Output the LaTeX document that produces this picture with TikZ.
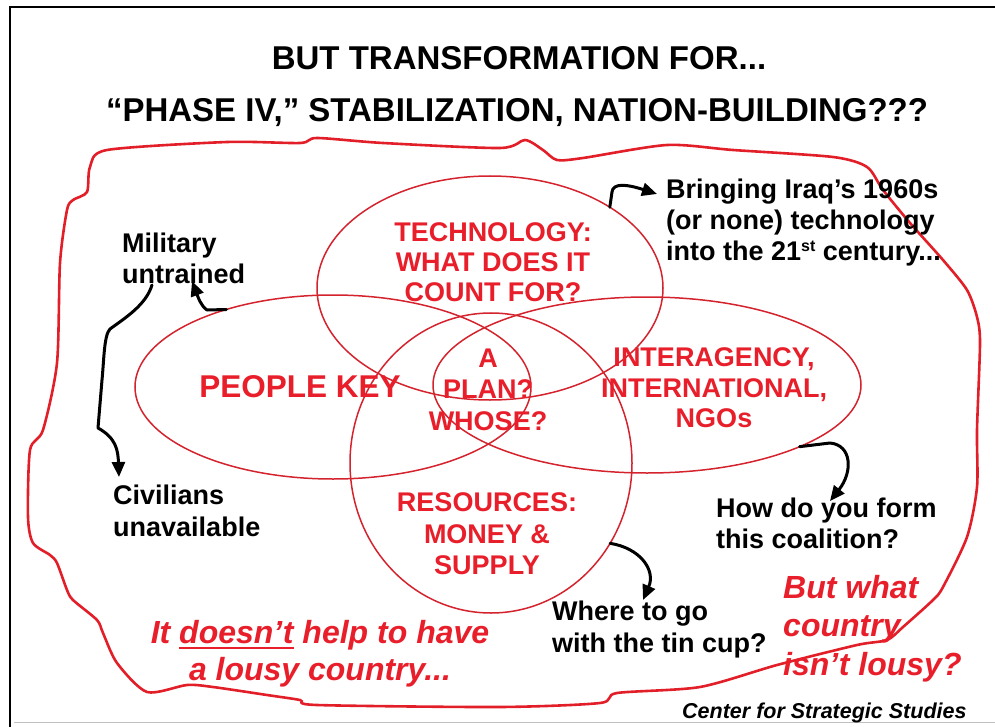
\documentclass[tikz,border=0pt]{standalone}
\usepackage{fontspec}
\setmainfont{Liberation Sans}
\usetikzlibrary{shapes.geometric, arrows.meta}
\definecolor{txtred}{RGB}{232,30,42}
\definecolor{linered}{RGB}{212,35,45}
\definecolor{blobred}{RGB}{226,30,40}
\newcommand{\thickul}[1]{\setbox0\hbox{#1}\rlap{\color{txtred}\raisebox{-6bp}{\rule{\wd0}{2.6bp}}}\box0\relax}
\begin{document}
\begin{tikzpicture}[x=1bp,y=-1bp,
  venn/.style={draw=linered, line width=1.5bp, ellipse, inner sep=0pt, outer sep=0pt},
  redlbl/.style={text=txtred, align=center, inner sep=0pt, anchor=north},
  blk/.style={font=\bfseries\fontsize{27bp}{31bp}\selectfont, align=left, inner sep=0pt, anchor=north west},
  redital/.style={text=txtred, inner sep=0pt, font=\bfseries\itshape\fontsize{32bp}{37bp}\selectfont},
  callout/.style={line width=3bp, line cap=round, line join=round, -{Triangle[length=15bp,width=13bp]}},
  titlefont/.style={font=\bfseries\fontsize{33bp}{36bp}\selectfont, inner sep=0pt, anchor=base}
]
\useasboundingbox (0,0) rectangle (995,727);
% frame
\draw[line width=2bp] (10,727) -- (10,7.5) -- (995,7.5);
\draw[line width=1bp, black!25] (14,722) -- (995,722);

% titles
\node[titlefont] (t1) at (519,70) {BUT TRANSFORMATION FOR...};
\node[titlefont] (t2) at (517,122) {“PHASE IV,” STABILIZATION, NATION-BUILDING???};

% outer blob
\draw[blobred, line width=2.6bp] plot[smooth cycle, tension=0.45] coordinates {
 (107,150) (227,142) (300,143) (317,138) (383,143) (500,148) (525,140) (543,150)
 (557,160) (583,158) (667,145) (733,150) (833,157) (867,167) (883,190) (910,223)
 (943,260) (967,290) (977,317) (980,343) (977,430) (977,487) (967,537) (943,587)
 (933,600) (903,627) (887,640) (857,645) (777,665) (700,687) (617,693) (600,703)
 (500,707) (317,705) (300,700) (267,695) (213,687) (187,685) (147,692) (117,663)
 (103,633) (97,620) (73,600) (67,590) (57,563) (50,555) (33,543) (28,517)
 (30,450) (43,430) (57,363) (60,263) (67,210) (73,200) (87,192) (90,167)};

% Venn ellipses
\node[venn, minimum width=346bp, minimum height=224bp] (tech) at (490,288) {};
\node[venn, minimum width=396bp, minimum height=184bp] (ppl) at (333,387) {};
\node[venn, minimum width=428bp, minimum height=176bp] (inter) at (647,385) {};
\node[venn, minimum width=282bp, minimum height=300bp] (res) at (491,463) {};

% red labels
\node[redlbl, font=\bfseries\fontsize{27bp}{30bp}\selectfont] (techtxt) at (493,222.7)
  {TECHNOLOGY:\\WHAT DOES IT\\COUNT FOR?};
\node[text=txtred, inner sep=0pt, anchor=base, font=\bfseries\fontsize{31.5bp}{34bp}\selectfont] (ppltxt) at (300,397) {PEOPLE KEY};
\node[redlbl, font=\bfseries\fontsize{27bp}{31.5bp}\selectfont] (plan) at (488,348.7)
  {A\\PLAN?\\WHOSE?};
\node[redlbl, font=\bfseries\fontsize{27bp}{30.5bp}\selectfont] (intertxt) at (714,347.7)
  {INTERAGENCY,\\INTERNATIONAL,\\NGOs};
\node[redlbl, font=\bfseries\fontsize{27bp}{31.5bp}\selectfont] (restxt) at (487,492.7)
  {RESOURCES:\\MONEY \&\\SUPPLY};

% black callouts
\node[blk] (mil) at (122,232.7) {Military\\untrained};
\node[blk, font=\bfseries\fontsize{27bp}{32bp}\selectfont] (civ) at (113,484.7) {Civilians\\unavailable};
\node[blk] (iraq) at (666,178.7) {Bringing Iraq’s 1960s\\(or none) technology\\into the 21{\fontsize{16bp}{16bp}\selectfont\raisebox{9bp}{st}} century...};
\node[blk] (how) at (716,497.7) {How do you form\\this coalition?};
\node[blk, font=\bfseries\fontsize{27bp}{32bp}\selectfont] (where) at (552,600.7) {Where to go\\with the tin cup?};

% red italic remarks
\node[redital, align=center, anchor=north] (lousy) at (320,620.1) {It \thickul{doesn’t} help to have\\a lousy country...};
\node[redital, align=left, anchor=north west, font=\bfseries\itshape\fontsize{32bp}{38.5bp}\selectfont] (butwhat) at (783,575.1) {But what\\country\\isn’t lousy?};

% credit
\node[inner sep=0pt, anchor=base west, font=\bfseries\itshape\fontsize{21.5bp}{24bp}\selectfont] (credit) at (682,718) {Center for Strategic Studies};

% connector end points
\coordinate (iraqin) at (657,194);
\coordinate (milin) at (192,281);
\coordinate (milout) at (152,285);
\coordinate (civin) at (119,477);
\coordinate (howin) at (830,501);
\coordinate (wherein) at (643,600);

% arrows
\draw[callout] (tech.34) -- (612,192) .. controls (613,183) and (626,184) .. (iraqin);
\draw[callout] (ppl.144) -- (207,310) .. controls (201,306) and (198,297) .. (milin);
\draw[callout] (milout) .. controls (146,305) and (125,318) .. (110,329)
  .. controls (104,335) and (104,360) .. (102,380) -- (98,428)
  .. controls (116,438) and (118,450) .. (civin);
\draw[callout] (inter.-22) -- (830,443) .. controls (852,445) and (853,472) .. (howin);
\draw[callout] (res.-34) .. controls (640,548) and (656,570) .. (wherein);
\end{tikzpicture}
\end{document}
